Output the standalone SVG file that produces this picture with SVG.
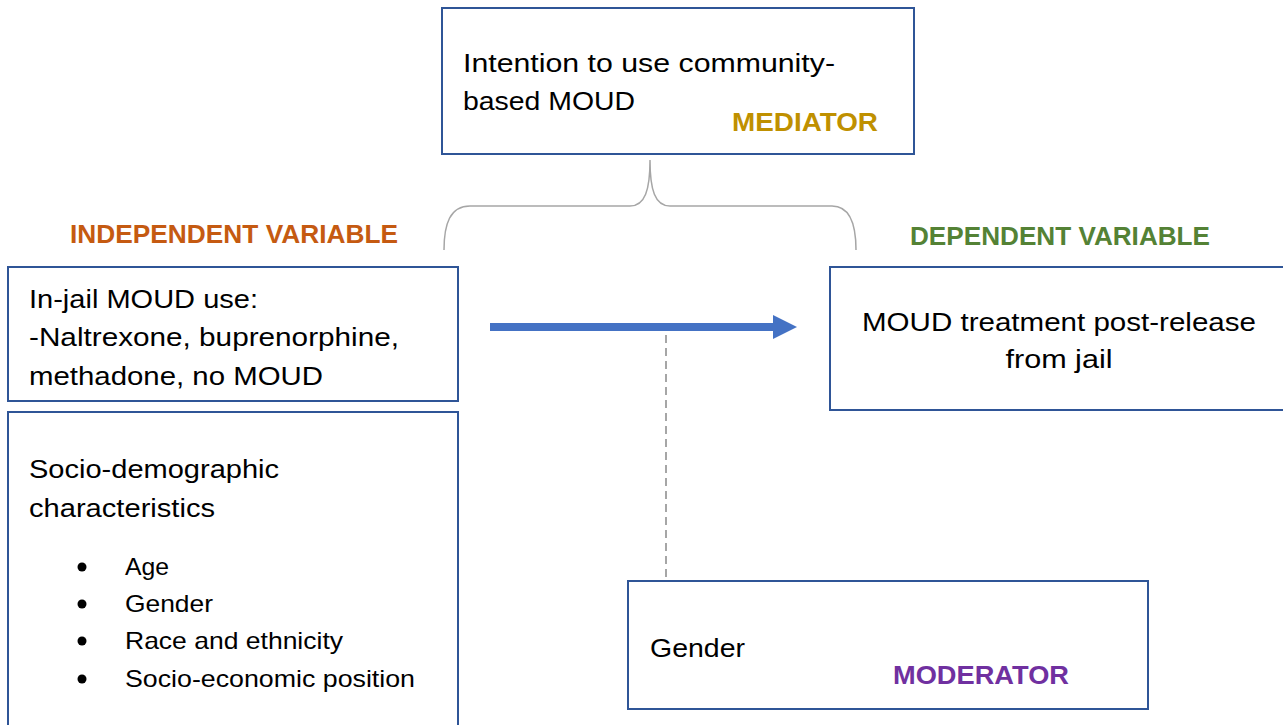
<svg xmlns="http://www.w3.org/2000/svg" width="1283" height="725" viewBox="0 0 1283 725">
  <style>
    .box { fill: #ffffff; stroke: #2F5597; stroke-width: 2; }
    .t { font-family: "Liberation Sans", Arial, sans-serif; font-size: 26px; fill: #000000; }
    .li { font-family: "Liberation Sans", Arial, sans-serif; font-size: 24px; fill: #000000; }
    .lbl { font-family: "Liberation Sans", Arial, sans-serif; font-size: 25px; font-weight: bold; }
  </style>
  <defs>
    <marker id="ah" viewBox="0 0 24 24" refX="0" refY="12" markerWidth="24" markerHeight="24" markerUnits="userSpaceOnUse" orient="auto">
      <path d="M0,0 L24,12 L0,24 Z" fill="#4472C4"/>
    </marker>
  </defs>
  <rect width="1283" height="725" fill="#ffffff"/>

  <g id="connectors">
    <path d="M444,250 C444,224 450,206 470,206 L630,206 C645,206 650,190 650,160 C650,190 655,206 670,206 L832,206 C850,206 856,224 856,250" fill="none" stroke="#A6A6A6" stroke-width="1.5"/>
    <line x1="490" y1="327" x2="773" y2="327" stroke="#4472C4" stroke-width="8" marker-end="url(#ah)"/>
    <line x1="666" y1="335" x2="666" y2="581" stroke="#A6A6A6" stroke-width="2" stroke-dasharray="8,5"/>
  </g>

  <g id="mediator">
    <rect class="box" x="442" y="8" width="472" height="146"/>
    <text class="t" x="463" y="72" textLength="372" lengthAdjust="spacingAndGlyphs">Intention to use community-</text>
    <text class="t" x="463" y="110" textLength="172" lengthAdjust="spacingAndGlyphs">based MOUD</text>
    <text class="lbl" x="732" y="131" fill="#BF9000" textLength="146" lengthAdjust="spacingAndGlyphs">MEDIATOR</text>
  </g>

  <g id="independent-label">
    <text class="lbl" x="70" y="243" fill="#C55A11" textLength="328" lengthAdjust="spacingAndGlyphs">INDEPENDENT VARIABLE</text>
  </g>

  <g id="dependent-label">
    <text class="lbl" x="910" y="245" fill="#548235" textLength="300" lengthAdjust="spacingAndGlyphs">DEPENDENT VARIABLE</text>
  </g>

  <g id="in-jail">
    <rect class="box" x="8" y="267" width="450" height="134"/>
    <text class="t" x="29" y="308" textLength="229" lengthAdjust="spacingAndGlyphs">In-jail MOUD use:</text>
    <text class="t" x="29" y="346" textLength="370" lengthAdjust="spacingAndGlyphs">-Naltrexone, buprenorphine,</text>
    <text class="t" x="29" y="385" textLength="294" lengthAdjust="spacingAndGlyphs">methadone, no MOUD</text>
  </g>

  <g id="socio">
    <rect class="box" x="8" y="412" width="450" height="330"/>
    <text class="t" x="29" y="478" textLength="250" lengthAdjust="spacingAndGlyphs">Socio-demographic</text>
    <text class="t" x="29" y="517" textLength="186" lengthAdjust="spacingAndGlyphs">characteristics</text>
    <circle cx="82" cy="567" r="4.5" fill="#000"/>
    <circle cx="82" cy="604" r="4.5" fill="#000"/>
    <circle cx="82" cy="641" r="4.5" fill="#000"/>
    <circle cx="82" cy="679" r="4.5" fill="#000"/>
    <text class="li" x="125" y="575" textLength="44" lengthAdjust="spacingAndGlyphs">Age</text>
    <text class="li" x="125" y="612" textLength="88" lengthAdjust="spacingAndGlyphs">Gender</text>
    <text class="li" x="125" y="649" textLength="218" lengthAdjust="spacingAndGlyphs">Race and ethnicity</text>
    <text class="li" x="125" y="687" textLength="290" lengthAdjust="spacingAndGlyphs">Socio-economic position</text>
  </g>

  <g id="dependent">
    <rect class="box" x="830" y="267" width="460" height="143"/>
    <text class="t" x="1059" y="331" text-anchor="middle" textLength="394" lengthAdjust="spacingAndGlyphs">MOUD treatment post-release</text>
    <text class="t" x="1059" y="368" text-anchor="middle" textLength="107" lengthAdjust="spacingAndGlyphs">from jail</text>
  </g>

  <g id="moderator">
    <rect class="box" x="628" y="581" width="520" height="128"/>
    <text class="t" x="650" y="657" textLength="95" lengthAdjust="spacingAndGlyphs">Gender</text>
    <text class="lbl" x="893" y="684" fill="#7030A0" textLength="176" lengthAdjust="spacingAndGlyphs">MODERATOR</text>
  </g>
</svg>
